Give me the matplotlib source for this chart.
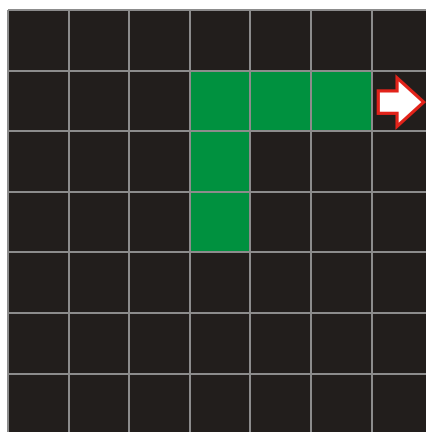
import numpy as np
import matplotlib
matplotlib.use("Agg")
from matplotlib import pyplot as plt
from matplotlib.colors import ListedColormap
from matplotlib.patches import FancyArrow

n_rows = 7
n_cols = 7
green_cells = [(1, 3), (1, 4), (1, 5), (2, 3), (3, 3)]  # (row, col)
arrow_cell = (1, 6)

board = np.zeros((n_rows, n_cols))
for r, c in green_cells:
    board[r, c] = 1

cell_px = 60.6
fig = plt.figure(figsize=(4.27, 4.32), dpi=100, facecolor="white")
ax = fig.add_axes([0, 0, 1, 1])
ax.set_facecolor("white")

cmap = ListedColormap(["#221e1c", "#00913f"])
ax.pcolormesh(np.arange(n_cols + 1), np.arange(n_rows + 1), board, cmap=cmap,
              vmin=0, vmax=1, edgecolors="#8c8c8c", linewidth=1.1)

r, c = arrow_cell
arrow = FancyArrow(c + 0.11, r + 0.52, 0.75, 0, width=0.37, head_width=0.80,
                   head_length=0.44, length_includes_head=True,
                   facecolor="white", edgecolor="#e2231a", linewidth=2.3,
                   joinstyle="miter")
ax.add_patch(arrow)

ax.set_xlim(-8 / cell_px, (427 - 8) / cell_px)
ax.set_ylim((432 - 10) / cell_px, -10 / cell_px)
ax.axis("off")

fig.savefig("out.png", dpi=100, facecolor="white")
